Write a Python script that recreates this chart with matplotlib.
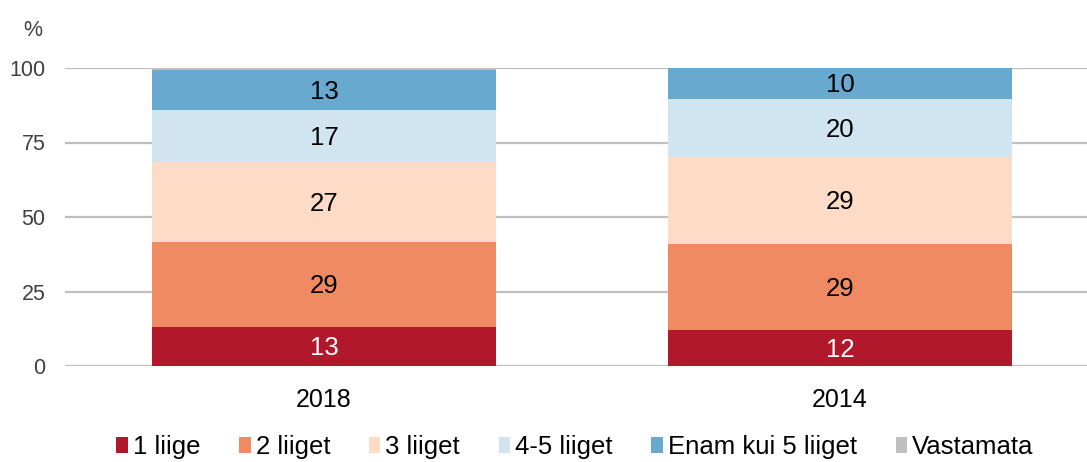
import matplotlib
matplotlib.use("Agg")
import matplotlib.pyplot as plt
import numpy as np

plt.rcParams['font.family'] = ['Liberation Sans', 'DejaVu Sans']

years = ['2018', '2014']
series = ['1 liige', '2 liiget', '3 liiget', '4-5 liiget', 'Enam kui 5 liiget', 'Vastamata']
one = [13.1, 12.1]
two = [28.5, 28.8]
three = [26.9, 29.2]
four_five = [17.4, 19.5]
more_five = [13.4, 10.4]
no_answer = [0.7, 0.0]
labels = [['13', '12'], ['29', '29'], ['27', '29'], ['17', '20'], ['13', '10'], None]

colors = ['#B2182B', '#EF8A62', '#FDDBC7', '#D1E5F0', '#67A9CF', '#BFBFBF']
text_colors = ['white', 'black', 'black', 'black', 'black', 'black']

values = [one, two, three, four_five, more_five, no_answer]

fig = plt.figure(figsize=(10.87, 4.62), dpi=100)
ax = fig.add_axes([65 / 1087, 1 - 366 / 462, (1087 - 65) / 1087, 298 / 462])

x = np.arange(len(years))
width = 0.667
bottom = np.zeros(len(years))
for i, vals in enumerate(values):
    vals = np.array(vals)
    ax.bar(x, vals, width, bottom=bottom, color=colors[i], label=series[i], zorder=2)
    if labels[i] is not None:
        for j in range(len(years)):
            # small downward nudge like the original's labels
            ax.text(x[j], bottom[j] + vals[j] / 2 - 0.6, labels[i][j], ha='center', va='center',
                    fontsize=18.5, color=text_colors[i], zorder=3)
    bottom = bottom + vals

ax.set_ylim(0, 100)
ax.set_xlim(-259 / 516, 763 / 516)
ax.set_yticks([0, 25, 50, 75, 100])
ax.set_xticks(x)
ax.set_xticklabels(years)
ax.tick_params(axis='y', length=0, pad=14, labelsize=15.5, labelcolor='#404040')
ax.tick_params(axis='x', length=0, pad=16, labelsize=18)
for s in ax.spines.values():
    s.set_visible(False)
ax.yaxis.grid(True, color='#BFBFBF', linewidth=1.6, zorder=0)
ax.set_axisbelow(True)

fig.text(33 / 1087, 1 - 30 / 462, '%', ha='center', va='center', fontsize=15.5, color='#404040')

ax.legend(loc='center', bbox_to_anchor=(575 / 1087, 1 - 447 / 462), bbox_transform=fig.transFigure,
          ncol=6, frameon=False, fontsize=18.5, handlelength=0.45, handleheight=0.55,
          handletextpad=0.2, columnspacing=1.5)

fig.savefig('out.png', dpi=100)
